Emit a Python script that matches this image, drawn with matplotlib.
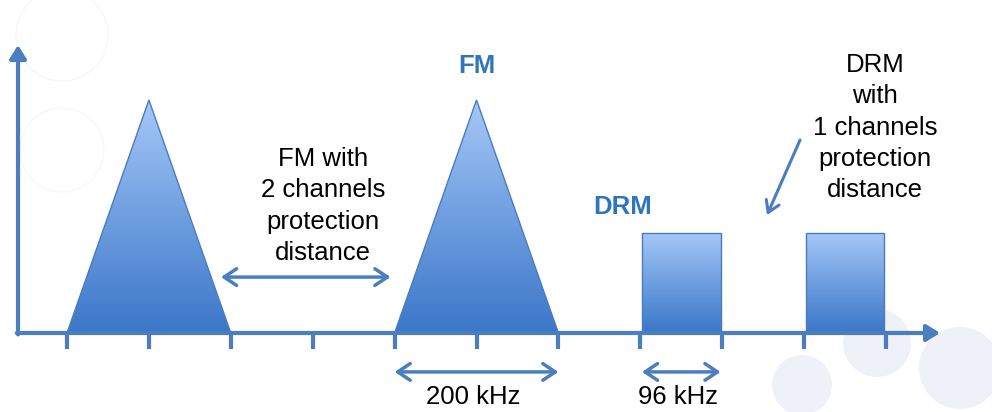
import numpy as np
import matplotlib
matplotlib.use("Agg")
import matplotlib.pyplot as plt
from matplotlib.patches import Polygon, Rectangle, Circle, FancyArrowPatch
from matplotlib.colors import LinearSegmentedColormap
from matplotlib.transforms import IdentityTransform

plt.rcParams['font.family'] = ['Liberation Sans', 'DejaVu Sans']

# Spectrum layout (frequency in kHz, level relative to FM peak)
freq_ticks = [0, 100, 200, 300, 400, 500, 600, 700, 800, 900, 1000]
fm_centres = [100, 500]
fm_bandwidth = 200
fm_level = 1.0
drm_centres = [750, 950]
drm_bandwidth = 96
drm_level = 0.43

fm_note = "FM with\n2 channels\nprotection\ndistance"
drm_note = "DRM\nwith\n1 channels\nprotection\ndistance"
fm_label = "FM"
drm_label = "DRM"
fm_bw_label = "200 kHz"
drm_bw_label = "96 kHz"

AXIS_BLUE = "#4a7ebf"
LABEL_BLUE = "#2f75bd"
EDGE_BLUE = "#4a7cbc"
grad = LinearSegmentedColormap.from_list("band", ["#3b77c8", "#6f9fe0", "#a6c8f8"])

W, H = 992, 412
fig = plt.figure(figsize=(W / 100, H / 100), dpi=100)
ax = fig.add_axes([0, 0, 1, 1])
ax.set_xlim(-81.8, 1129.4)
ax.set_ylim(-0.339, 1.429)
ax.axis("off")


# faint decorative circles in the background (pixel coordinates)
def deco(x, y, r, **kw):
    c = Circle((x, H - y), r, transform=IdentityTransform(), zorder=0, clip_on=False, **kw)
    ax.add_artist(c)


deco(62, 35, 46, fill=False, ec="#f7f7f8", lw=1.0)
deco(62, 150, 42, fill=False, ec="#f8f8f9", lw=1.0)
deco(802, 385, 30, fc="#eef1f7", ec="none")
deco(877, 343, 34, fc="#eef1f7", ec="none")
deco(960, 368, 41, fc="#eef1f7", ec="none")

gradient = np.linspace(0, 1, 256).reshape(-1, 1)


def gradient_patch(patch, x0, x1, top):
    patch.set_zorder(3)
    ax.add_patch(patch)
    im = ax.imshow(gradient, cmap=grad, extent=(x0, x1, 0, top), origin="lower",
                   aspect="auto", zorder=2, interpolation="bicubic")
    im.set_clip_path(patch)


# FM carriers as triangles
for c in fm_centres:
    x0, x1 = c - fm_bandwidth / 2, c + fm_bandwidth / 2
    tri = Polygon([(x0, 0), (c, fm_level), (x1, 0)], closed=True,
                  fc="none", ec=EDGE_BLUE, lw=1.0)
    gradient_patch(tri, x0, x1, fm_level)

# DRM carriers as rectangles
for c in drm_centres:
    x0 = c - drm_bandwidth / 2
    rect = Rectangle((x0, 0), drm_bandwidth, drm_level, fc="none", ec=EDGE_BLUE, lw=1.0)
    gradient_patch(rect, x0, x0 + drm_bandwidth, drm_level)

# axes with arrow heads
y_axis_x = -59.8
head = "-|>,head_length=8,head_width=5"
ax.add_patch(FancyArrowPatch((y_axis_x, -0.006), (y_axis_x, 1.236), arrowstyle=head,
                             color=AXIS_BLUE, lw=3, zorder=4, shrinkA=0, shrinkB=0,
                             mutation_scale=1))
ax.add_patch(FancyArrowPatch((y_axis_x - 1.5, 0), (1066, 0), arrowstyle=head,
                             color=AXIS_BLUE, lw=3, zorder=4, shrinkA=0, shrinkB=0,
                             mutation_scale=1))
for t in freq_ticks:
    ax.plot([t, t], [0, -0.069], color=AXIS_BLUE, lw=3, solid_capstyle="butt", zorder=4)

arrow_kw = dict(arrowstyle="<->,head_length=0.45,head_width=0.3", color=AXIS_BLUE,
                lw=2.5, shrinkA=0, shrinkB=0, mutation_scale=20, zorder=4)

# bandwidth markers
fm_c = fm_centres[1]
ax.add_patch(FancyArrowPatch((fm_c - fm_bandwidth / 2, -0.167),
                             (fm_c + fm_bandwidth / 2, -0.167), **arrow_kw))
drm_c = drm_centres[0]
ax.add_patch(FancyArrowPatch((drm_c - drm_bandwidth / 2, -0.167),
                             (drm_c + drm_bandwidth / 2, -0.167), **arrow_kw))

# protection distance between FM carriers
ax.add_patch(FancyArrowPatch((fm_centres[0] + fm_bandwidth / 2 - 12, 0.240),
                             (fm_centres[1] - fm_bandwidth / 2 - 5, 0.240), **arrow_kw))

# pointer towards the gap between DRM carriers
ax.add_patch(FancyArrowPatch((895, 0.828), (854.7, 0.506),
                             arrowstyle="->,head_length=0.4,head_width=0.25", color=AXIS_BLUE,
                             lw=2.2, shrinkA=0, shrinkB=0, mutation_scale=20, zorder=4))

txt = dict(fontsize=18.5, color="black", ha="center", va="center", linespacing=1.38)
ax.text(312.6, 0.545, fm_note, **txt)
ax.text(986.6, 0.881, drm_note, **txt)
ax.text(495.7, -0.275, fm_bw_label, **txt)
ax.text(746, -0.275, drm_bw_label, **txt)

ax.text(fm_c, 1.146, fm_label, fontsize=18.5, fontweight="bold", color=LABEL_BLUE,
        ha="center", va="center")
ax.text(drm_c - 72, 0.541, drm_label, fontsize=18.5, fontweight="bold", color=LABEL_BLUE,
        ha="center", va="center")

fig.savefig("out.png", dpi=100)
